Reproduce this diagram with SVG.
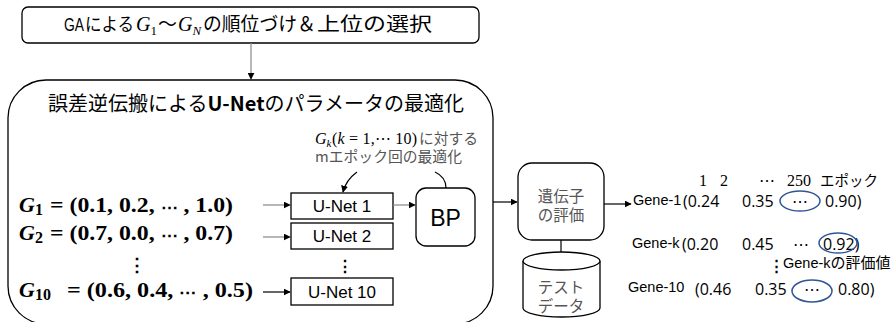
<svg xmlns="http://www.w3.org/2000/svg" width="893" height="322" viewBox="0 0 893 322">
  <defs>
    <marker id="arr" viewBox="0 0 10 10" refX="9" refY="5" markerWidth="7" markerHeight="7" markerUnits="userSpaceOnUse" orient="auto">
      <path d="M0,0 L10,5 L0,10 z" fill="#000"/>
    </marker>
    <style>
      .box { fill: #fff; stroke: #000; stroke-width: 1.3; }
      .ln { fill: none; stroke: #000; stroke-width: 1.2; }
      .lg { fill: none; stroke: #888; stroke-width: 1.2; }
      .jp { font-family: "Noto Sans CJK JP", "Noto Sans", sans-serif; fill: #000; }
      .gr { fill: #555; }
      .sans { font-family: "Liberation Sans", Arial, sans-serif; fill: #000; }
      .num { font-family: "Open Sans", "Liberation Sans", sans-serif; fill: #000; font-size: 16px; }
      .math { font-family: "Liberation Serif", "DejaVu Serif", serif; fill: #000; }
      .oval { fill: none; stroke: #2F5597; stroke-width: 1.5; }
    </style>
  </defs>

  <!-- ranking / selection step -->
  <g id="ga-select">
    <rect class="box" x="22" y="7" width="457" height="36" rx="6"/>
    <text class="sans" x="64" y="31" font-size="18.5" textLength="20" lengthAdjust="spacingAndGlyphs">GA</text>
    <text class="jp" x="85" y="31" font-size="18" textLength="49" lengthAdjust="spacingAndGlyphs">による</text>
    <text class="math" x="136" y="31" font-size="20" font-style="italic">G<tspan font-size="13" font-style="normal" dy="4">1</tspan></text>
    <text class="jp" x="158" y="31" font-size="19">〜</text>
    <text class="math" x="178" y="31" font-size="20" font-style="italic">G<tspan font-size="13" dy="4">N</tspan></text>
    <text class="jp" x="203" y="31" font-size="19" textLength="94" lengthAdjust="spacingAndGlyphs">の順位づけ</text>
    <text class="jp" x="297" y="31" font-size="19">＆</text>
    <text class="jp" x="317" y="31" font-size="19" textLength="115" lengthAdjust="spacingAndGlyphs">上位の選択</text>
  </g>

  <!-- back-propagation training container -->
  <g id="bp-stage">
    <rect class="box" x="8" y="80" width="485" height="244" rx="38"/>
    <text class="jp" x="48" y="111" font-size="20">誤差逆伝搬による<tspan font-weight="bold">U-Net</tspan>のパラメータの最適化</text>
    <text class="math gr" x="315" y="144" font-size="16" font-style="italic">G<tspan font-size="11" dy="2.5">k</tspan></text>
    <text class="math gr" x="332" y="144" font-size="16" textLength="85" lengthAdjust="spacing">(<tspan font-style="italic">k</tspan> = 1,⋯ 10)</text>
    <text class="jp gr" x="419" y="144" font-size="14.5" textLength="59" lengthAdjust="spacingAndGlyphs">に対する</text>
    <text class="jp gr" x="315" y="162" font-size="14.5" textLength="147" lengthAdjust="spacingAndGlyphs">mエポック回の最適化</text>
  </g>

  <!-- gene vectors -->
  <g id="genes">
    <text class="math" x="19" y="212" font-size="22" font-weight="bold" font-style="italic">G<tspan font-size="16" font-style="normal" dy="3">1</tspan></text>
    <text class="math" x="50" y="212" font-size="21" font-weight="bold" textLength="183" lengthAdjust="spacingAndGlyphs">= (0.1, 0.2, <tspan font-size="15">⋯</tspan> , 1.0)</text>
    <text class="math" x="19" y="240" font-size="22" font-weight="bold" font-style="italic">G<tspan font-size="16" font-style="normal" dy="3">2</tspan></text>
    <text class="math" x="50" y="240" font-size="21" font-weight="bold" textLength="183" lengthAdjust="spacingAndGlyphs">= (0.7, 0.0, <tspan font-size="15">⋯</tspan> , 0.7)</text>
    <text class="math" x="128" y="271" font-size="18" font-weight="bold">⋮</text>
    <text class="math" x="19" y="297" font-size="22" font-weight="bold" font-style="italic">G<tspan font-size="16" font-style="normal" dy="3">10</tspan></text>
    <text class="math" x="67" y="297" font-size="21" font-weight="bold" textLength="186" lengthAdjust="spacingAndGlyphs">= (0.6, 0.4, <tspan font-size="15">⋯</tspan> , 0.5)</text>
  </g>

  <g id="unet1">
    <rect class="box" x="291" y="193" width="102" height="26"/>
    <text class="sans" x="342" y="212" font-size="17" text-anchor="middle">U-Net  1</text>
  </g>
  <g id="unet2">
    <rect class="box" x="291" y="223" width="102" height="26"/>
    <text class="sans" x="342" y="242" font-size="17" text-anchor="middle">U-Net  2</text>
  </g>
  <text class="math" x="337" y="272" font-size="16" font-weight="bold">⋮</text>
  <g id="unet10">
    <rect class="box" x="291" y="278" width="102" height="27"/>
    <text class="sans" x="342" y="298" font-size="17" text-anchor="middle">U-Net  10</text>
  </g>

  <g id="bp">
    <rect class="box" x="416" y="188" width="59" height="58" rx="10"/>
    <text class="sans" x="445.5" y="226" font-size="23" text-anchor="middle">BP</text>
  </g>

  <g id="evaluate">
    <rect class="box" x="518" y="163" width="86" height="77" rx="14"/>
    <text class="jp gr" x="561" y="202" font-size="15.5" text-anchor="middle">遺伝子</text>
    <text class="jp gr" x="561" y="221" font-size="15.5" text-anchor="middle">の評価</text>
  </g>

  <g id="test-data">
    <path class="box" d="M523,261 L523,308 A38.5,9 0 0 0 600,308 L600,261"/>
    <ellipse class="box" cx="561.5" cy="261" rx="38.5" ry="9"/>
    <text class="jp gr" x="561" y="293" font-size="15.5" text-anchor="middle">テスト</text>
    <text class="jp gr" x="561" y="312" font-size="15.5" text-anchor="middle">データ</text>
  </g>

  <!-- evaluation results -->
  <g id="results">
    <text class="math" x="699" y="186" font-size="16">1</text>
    <text class="math" x="720" y="186" font-size="16">2</text>
    <text class="math" x="759" y="186" font-size="16">⋯</text>
    <text class="math" x="787" y="186" font-size="16">250</text>
    <text class="jp" x="820" y="186" font-size="14.5" textLength="58" lengthAdjust="spacingAndGlyphs">エポック</text>

    <text class="sans" x="633" y="205" font-size="14.5">Gene-1</text>
    <text class="num" x="683" y="207">(0.24</text>
    <text class="num" x="742" y="207">0.35</text>
    <ellipse class="oval" cx="800" cy="201" rx="20" ry="10"/>
    <text class="num" x="800" y="207" text-anchor="middle">⋯</text>
    <text class="num" x="825" y="207">0.90)</text>

    <text class="sans" x="632" y="248" font-size="14.5">Gene-k</text>
    <text class="num" x="682" y="250">(0.20</text>
    <text class="num" x="742" y="250">0.45</text>
    <text class="num" x="793" y="250">⋯</text>
    <text class="num" x="823" y="250">0.92)</text>
    <ellipse class="oval" cx="838" cy="243" rx="19" ry="10"/>

    <text class="math" x="769" y="271" font-size="15" font-weight="bold">⋮</text>
    <text class="sans" x="783" y="268" font-size="14.5">Gene-k<tspan class="jp" font-size="15">の評価値</tspan></text>

    <text class="sans" x="628" y="292" font-size="14.5">Gene-10</text>
    <text class="num" x="695" y="295">(0.46</text>
    <text class="num" x="755" y="295">0.35</text>
    <ellipse class="oval" cx="812" cy="291" rx="20" ry="11"/>
    <text class="num" x="812" y="295" text-anchor="middle">⋯</text>
    <text class="num" x="838" y="295">0.80)</text>
  </g>

  <g id="connectors">
    <line class="lg" x1="251" y1="43" x2="251" y2="79" marker-end="url(#arr)"/>
    <path class="ln" d="M357,172 Q346,180 343,192" marker-end="url(#arr)"/>
    <path class="ln" d="M435,172 Q446,177 446,188"/>
    <line class="lg" x1="263" y1="205" x2="290" y2="205" marker-end="url(#arr)"/>
    <line class="lg" x1="263" y1="237" x2="290" y2="237" marker-end="url(#arr)"/>
    <line class="ln" x1="263" y1="292" x2="290" y2="292" marker-end="url(#arr)"/>
    <line class="lg" x1="393" y1="205" x2="415" y2="205" marker-end="url(#arr)"/>
    <line class="ln" x1="493" y1="202" x2="517" y2="202" marker-end="url(#arr)"/>
    <line class="ln" x1="604" y1="204" x2="631" y2="204" marker-end="url(#arr)"/>
    <line class="ln" x1="561" y1="240" x2="561" y2="252"/>
  </g>
</svg>
